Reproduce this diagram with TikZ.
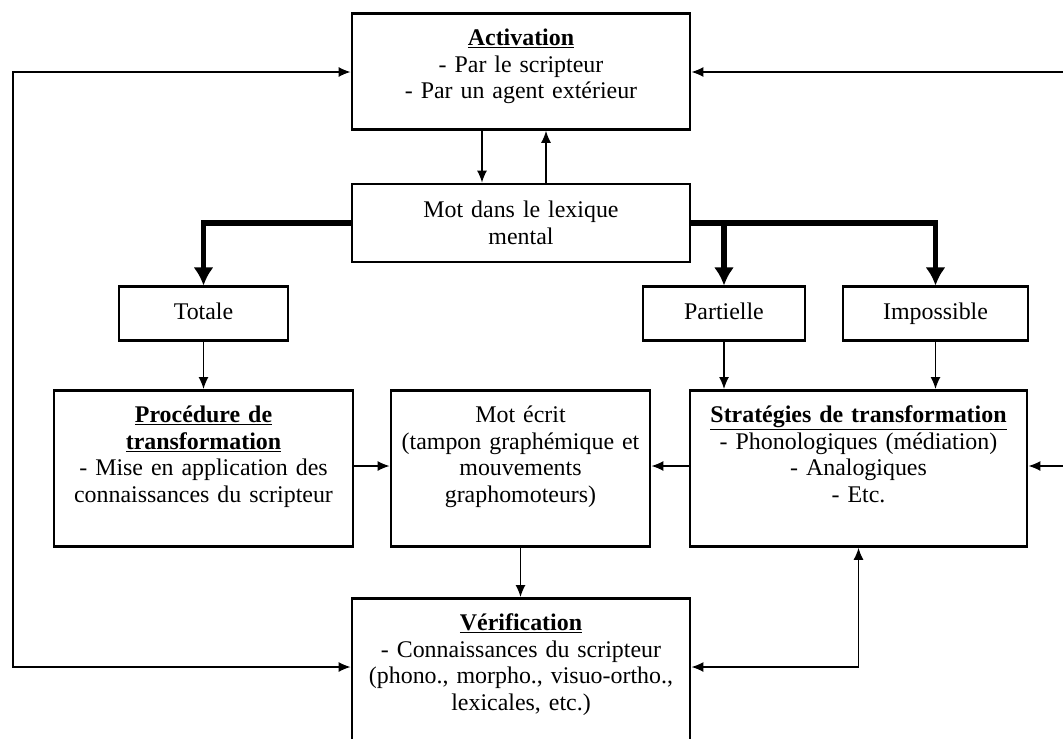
\documentclass[tikz,border=0pt]{standalone}
\usepackage{fontspec}
\setmainfont{Liberation Serif}
\usetikzlibrary{arrows.meta}

\begin{document}
\begin{tikzpicture}[x=0.025cm, y=-0.025cm,
							boite/.style={draw, line width=2pt, align=center, inner xsep=0pt, inner ysep=0.325cm, text height=0.475cm, anchor=north},
							petite/.style={draw, line width=2pt, minimum height=1.33cm, inner xsep=0pt, text height=0.43cm, text depth=0.12cm},
							fleche/.style={line width=0.9pt, ->},
							grosse/.style={line width=4.2pt, -{Latex[length=0.45cm, width=0.5cm]}},
							>={Latex[length=0.3cm, width=0.25cm]}, font=\fontsize{17}{19}\selectfont]
			\useasboundingbox (0,0) rectangle (1063,738);
			\node[boite, text width=8.45cm, text depth=1.775cm] (activation) at (521,12)
				{\underline{\textbf{Activation}}\\- Par le scripteur\\- Par un agent extérieur};
			\node[draw, line width=2pt, align=center, text width=8.45cm, inner xsep=0pt, minimum height=1.95cm] (lexique) at (521,223)
				{Mot dans le lexique\\mental};
			\node[petite, minimum width=4.225cm] (totale) at (203.5,313.5) {Totale};
			\node[petite, minimum width=4.05cm] (partielle) at (724,313.5) {Partielle};
			\node[petite, minimum width=4.625cm] (impossible) at (935.5,313.5) {Impossible};
			\node[boite, text width=7.475cm, text depth=2.775cm] (procedure) at (203.5,389)
				{\underline{\textbf{Procédure de}}\\\underline{\textbf{transformation}}\\- Mise en application des\\connaissances du scripteur};
			\node[boite, text width=6.475cm, text depth=2.775cm] (motecrit) at (520.5,389)
				{Mot écrit\\(tampon graphémique et\\mouvements\\graphomoteurs)};
			\node[boite, text width=8.425cm, text depth=2.775cm] (strategies) at (858.5,389)
				{\underline{\textbf{Stratégies de transformation}}\\- Phonologiques (médiation)\\- Analogiques\\- Etc.};
			\node[boite, text width=8.45cm, text depth=4.5cm] (verification) at (521,597)
				{\underline{\textbf{Vérification}}\\- Connaissances du scripteur\\(phono., morpho., visuo-ortho.,\\lexicales, etc.)};
			\coordinate (gauchehaut) at (13,72);
			\coordinate (gauchebas) at (13,667);
			\coordinate (droitehaut) at (1075,72);
			\coordinate (milieu) at (1075,466);
			\coordinate (coin) at (858.5,667);
			\draw[grosse] (lexique.west) -| (totale.north);
			\draw[grosse] (lexique.east) -| (impossible.north);
			\draw[grosse] (lexique.east -| partielle.north) -- (partielle.north);
			\draw[fleche] ([xshift=-0.975cm]activation.south) -- ([xshift=-0.975cm]lexique.north);
			\draw[fleche] ([xshift=0.625cm]lexique.north) -- ([xshift=0.625cm]activation.south);
			\draw[fleche] (totale) -- (procedure);
			\foreach \n in {partielle, impossible}
				\draw[fleche] (\n.south) -- (\n.south |- strategies.north);
			\draw[fleche] (procedure.east |- milieu) -- (motecrit.west |- milieu);
			\draw[fleche] (strategies.west |- milieu) -- (motecrit.east |- milieu);
			\draw[fleche] (milieu) -- (strategies.east |- milieu);
			\draw[fleche] (motecrit.south) -- (motecrit.south |- verification.north);
			\draw[fleche] (droitehaut) -- (droitehaut -| activation.east);
			\draw[fleche, <->] (gauchehaut -| activation.west) -- (gauchehaut) -- (gauchebas) -- (gauchebas -| verification.west);
			\draw[fleche, <->] (verification.east |- coin) -- (coin) -- (strategies.south);
		\end{tikzpicture}
\end{document}
